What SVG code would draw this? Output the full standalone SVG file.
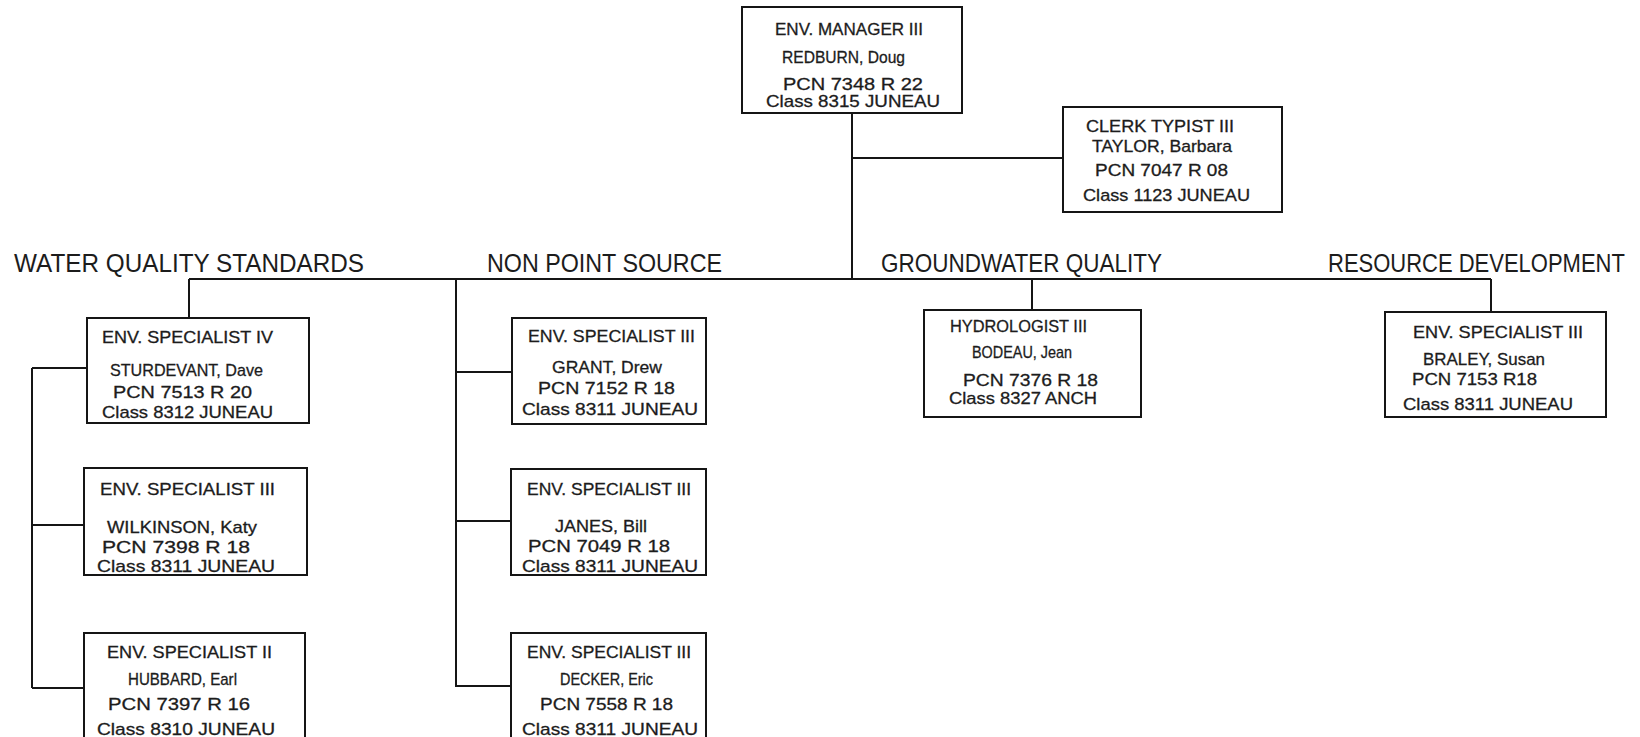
<svg xmlns="http://www.w3.org/2000/svg" width="1640" height="737" viewBox="0 0 1640 737">
<style>
.bg{fill:#ffffff}
.box{fill:#ffffff;stroke:#151515;stroke-width:2}
.c{stroke:#151515;stroke-width:2;fill:none}
.t{font-family:"Liberation Sans",Arial,sans-serif;font-size:17px;fill:#1c1c1c;stroke:#1c1c1c;stroke-width:0.3}
.h{font-family:"Liberation Sans",Arial,sans-serif;font-size:25px;fill:#1c1c1c}
</style>
<rect class="bg" x="0" y="0" width="1640" height="737"/>

<g id="connectors">
<path class="c" d="M852 113 V279"/>
<path class="c" d="M852 158 H1063"/>
<path class="c" d="M189 279 H1491"/>
<path class="c" d="M189 279 V318"/>
<path class="c" d="M1032 279 V310"/>
<path class="c" d="M1491 279 V312"/>
<path class="c" d="M456 279 V687"/>
<path class="c" d="M456 372 H512"/>
<path class="c" d="M456 521 H511"/>
<path class="c" d="M456 686 H511"/>
<path class="c" d="M32 368 V688"/>
<path class="c" d="M32 368 H87"/>
<path class="c" d="M32 525 H84"/>
<path class="c" d="M32 688 H84"/>
</g>

<g id="headers">
<text class="h" x="14" y="272" textLength="350" lengthAdjust="spacingAndGlyphs">WATER QUALITY STANDARDS</text>
<text class="h" x="487" y="272" textLength="235" lengthAdjust="spacingAndGlyphs">NON POINT SOURCE</text>
<text class="h" x="881" y="272" textLength="281" lengthAdjust="spacingAndGlyphs">GROUNDWATER QUALITY</text>
<text class="h" transform="translate(1328,272) scale(0.88,1)" x="0" y="0">RESOURCE DEVELOPMENT</text>
</g>

<g id="manager">
<rect class="box" x="742" y="7" width="220" height="106"/>
<text class="t" x="775" y="35" textLength="148" lengthAdjust="spacingAndGlyphs">ENV. MANAGER III</text>
<text class="t" x="782" y="63" textLength="123" lengthAdjust="spacingAndGlyphs">REDBURN, Doug</text>
<text class="t" x="783" y="90" textLength="140" lengthAdjust="spacingAndGlyphs">PCN 7348  R 22</text>
<text class="t" x="766" y="107" textLength="174" lengthAdjust="spacingAndGlyphs">Class 8315  JUNEAU</text>
</g>

<g id="clerk">
<rect class="box" x="1063" y="107" width="219" height="105"/>
<text class="t" x="1086" y="132" textLength="148" lengthAdjust="spacingAndGlyphs">CLERK TYPIST III</text>
<text class="t" x="1092" y="152" textLength="140" lengthAdjust="spacingAndGlyphs">TAYLOR, Barbara</text>
<text class="t" x="1095" y="176" textLength="133" lengthAdjust="spacingAndGlyphs">PCN 7047  R 08</text>
<text class="t" x="1083" y="201" textLength="167" lengthAdjust="spacingAndGlyphs">Class 1123  JUNEAU</text>
</g>

<g id="sturdevant">
<rect class="box" x="87" y="318" width="222" height="105"/>
<text class="t" x="102" y="343" textLength="171" lengthAdjust="spacingAndGlyphs">ENV. SPECIALIST IV</text>
<text class="t" x="110" y="376" textLength="153" lengthAdjust="spacingAndGlyphs">STURDEVANT, Dave</text>
<text class="t" x="113" y="398" textLength="139" lengthAdjust="spacingAndGlyphs">PCN 7513  R 20</text>
<text class="t" x="102" y="418" textLength="171" lengthAdjust="spacingAndGlyphs">Class 8312  JUNEAU</text>
</g>

<g id="wilkinson">
<rect class="box" x="84" y="468" width="223" height="107"/>
<text class="t" x="100" y="495" textLength="175" lengthAdjust="spacingAndGlyphs">ENV. SPECIALIST III</text>
<text class="t" x="107" y="533" textLength="150" lengthAdjust="spacingAndGlyphs">WILKINSON, Katy</text>
<text class="t" x="102" y="553" textLength="148" lengthAdjust="spacingAndGlyphs">PCN 7398  R 18</text>
<text class="t" x="97" y="572" textLength="178" lengthAdjust="spacingAndGlyphs">Class 8311  JUNEAU</text>
</g>

<g id="hubbard">
<rect class="box" x="84" y="633" width="221" height="112"/>
<text class="t" x="107" y="658" textLength="165" lengthAdjust="spacingAndGlyphs">ENV. SPECIALIST II</text>
<text class="t" x="128" y="685" textLength="109" lengthAdjust="spacingAndGlyphs">HUBBARD, Earl</text>
<text class="t" x="108" y="710" textLength="142" lengthAdjust="spacingAndGlyphs">PCN 7397 R 16</text>
<text class="t" x="97" y="735" textLength="178" lengthAdjust="spacingAndGlyphs">Class 8310  JUNEAU</text>
</g>

<g id="grant">
<rect class="box" x="512" y="318" width="194" height="106"/>
<text class="t" x="528" y="342" textLength="167" lengthAdjust="spacingAndGlyphs">ENV. SPECIALIST III</text>
<text class="t" x="552" y="373" textLength="110" lengthAdjust="spacingAndGlyphs">GRANT, Drew</text>
<text class="t" x="538" y="394" textLength="137" lengthAdjust="spacingAndGlyphs">PCN 7152  R 18</text>
<text class="t" x="522" y="415" textLength="176" lengthAdjust="spacingAndGlyphs">Class 8311  JUNEAU</text>
</g>

<g id="janes">
<rect class="box" x="511" y="469" width="195" height="106"/>
<text class="t" x="527" y="495" textLength="164" lengthAdjust="spacingAndGlyphs">ENV. SPECIALIST III</text>
<text class="t" x="555" y="532" textLength="92" lengthAdjust="spacingAndGlyphs">JANES, Bill</text>
<text class="t" x="528" y="552" textLength="142" lengthAdjust="spacingAndGlyphs">PCN 7049  R 18</text>
<text class="t" x="522" y="572" textLength="176" lengthAdjust="spacingAndGlyphs">Class 8311  JUNEAU</text>
</g>

<g id="decker">
<rect class="box" x="511" y="633" width="195" height="112"/>
<text class="t" x="527" y="658" textLength="164" lengthAdjust="spacingAndGlyphs">ENV. SPECIALIST III</text>
<text class="t" x="560" y="685" textLength="93" lengthAdjust="spacingAndGlyphs">DECKER, Eric</text>
<text class="t" x="540" y="710" textLength="133" lengthAdjust="spacingAndGlyphs">PCN 7558 R 18</text>
<text class="t" x="522" y="735" textLength="176" lengthAdjust="spacingAndGlyphs">Class 8311  JUNEAU</text>
</g>

<g id="bodeau">
<rect class="box" x="924" y="310" width="217" height="107"/>
<text class="t" x="950" y="332" textLength="137" lengthAdjust="spacingAndGlyphs">HYDROLOGIST III</text>
<text class="t" x="972" y="358" textLength="100" lengthAdjust="spacingAndGlyphs">BODEAU, Jean</text>
<text class="t" x="963" y="386" textLength="135" lengthAdjust="spacingAndGlyphs">PCN 7376  R 18</text>
<text class="t" x="949" y="404" textLength="148" lengthAdjust="spacingAndGlyphs">Class 8327  ANCH</text>
</g>

<g id="braley">
<rect class="box" x="1385" y="312" width="221" height="105"/>
<text class="t" x="1413" y="338" textLength="170" lengthAdjust="spacingAndGlyphs">ENV. SPECIALIST III</text>
<text class="t" x="1423" y="365" textLength="122" lengthAdjust="spacingAndGlyphs">BRALEY, Susan</text>
<text class="t" x="1412" y="385" textLength="125" lengthAdjust="spacingAndGlyphs">PCN 7153  R18</text>
<text class="t" x="1403" y="410" textLength="170" lengthAdjust="spacingAndGlyphs">Class 8311  JUNEAU</text>
</g>
</svg>
